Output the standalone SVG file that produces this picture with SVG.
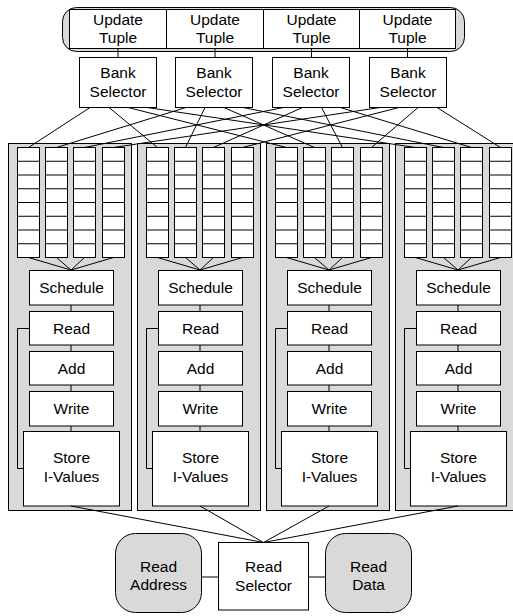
<svg xmlns="http://www.w3.org/2000/svg" width="513" height="616" viewBox="0 0 513 616">
<style>
.g{fill:#d9d9d9;stroke:#000;stroke-width:1}
.w{fill:#fff;stroke:#000;stroke-width:1}
.c{fill:none;stroke:#000;stroke-width:1}
text{font-family:"Liberation Sans",Arial,sans-serif;font-size:15.5px;text-anchor:middle;fill:#000}
</style>
<defs>
<g id="fifo">
<rect class="w" x="0" y="0" width="22" height="110"/>
<path class="c" d="M0 13.75H22M0 27.5H22M0 41.25H22M0 55H22M0 68.75H22M0 82.5H22M0 96.25H22"/>
</g>
</defs>
<rect x="0" y="0" width="513" height="616" fill="#fff"/>
<g id="update-container">
<rect class="g" x="62.5" y="7.5" width="402" height="44" rx="14"/>
</g>
<g id="tuple1"><rect class="w" x="69.5" y="9.5" width="97" height="39"/><text x="118" y="25">Update</text><text x="118" y="43">Tuple</text></g>
<g id="tuple2"><rect class="w" x="166.5" y="9.5" width="97" height="39"/><text x="215" y="25">Update</text><text x="215" y="43">Tuple</text></g>
<g id="tuple3"><rect class="w" x="263.5" y="9.5" width="96" height="39"/><text x="311.5" y="25">Update</text><text x="311.5" y="43">Tuple</text></g>
<g id="tuple4"><rect class="w" x="359.5" y="9.5" width="96" height="39"/><text x="407.5" y="25">Update</text><text x="407.5" y="43">Tuple</text></g>
<g id="bank1"><rect class="w" x="79.5" y="57.5" width="77" height="50"/><text x="118" y="78">Bank</text><text x="118" y="97">Selector</text></g>
<g id="bank2"><rect class="w" x="175.5" y="57.5" width="77" height="50"/><text x="214" y="78">Bank</text><text x="214" y="97">Selector</text></g>
<g id="bank3"><rect class="w" x="272.5" y="57.5" width="77" height="50"/><text x="311" y="78">Bank</text><text x="311" y="97">Selector</text></g>
<g id="bank4"><rect class="w" x="369.5" y="57.5" width="77" height="50"/><text x="408" y="78">Bank</text><text x="408" y="97">Selector</text></g>
<g id="panel1">
<rect class="g" x="8.5" y="143.5" width="123" height="367"/>
<use href="#fifo" x="17.5" y="147.5"/><use href="#fifo" x="45.5" y="147.5"/><use href="#fifo" x="73.5" y="147.5"/><use href="#fifo" x="102.5" y="147.5"/>
<path class="c" d="M28.5 257.5L71 270M56.5 257.5L71 270M84.5 257.5L71 270M113.5 257.5L71 270M71 305V311M71 345V351M71 385V391M71 426V431M29.5 328.5H17.5V468.5H23.5"/>
<rect class="w" x="29.5" y="270.5" width="84" height="34.5"/><text x="71.5" y="293">Schedule</text>
<rect class="w" x="29.5" y="311.5" width="84" height="33.5"/><text x="71.5" y="334">Read</text>
<rect class="w" x="29.5" y="351.5" width="84" height="33.5"/><text x="71.5" y="374">Add</text>
<rect class="w" x="29.5" y="391.5" width="84" height="34.5"/><text x="71.5" y="414">Write</text>
<rect class="w" x="23.5" y="431.5" width="96" height="74.5"/><text x="71.5" y="463">Store</text><text x="71.5" y="481.5">I-Values</text>
</g>
<g id="panel2" transform="translate(129,0)">
<rect class="g" x="8.5" y="143.5" width="123" height="367"/>
<use href="#fifo" x="17.5" y="147.5"/><use href="#fifo" x="45.5" y="147.5"/><use href="#fifo" x="73.5" y="147.5"/><use href="#fifo" x="102.5" y="147.5"/>
<path class="c" d="M28.5 257.5L71 270M56.5 257.5L71 270M84.5 257.5L71 270M113.5 257.5L71 270M71 305V311M71 345V351M71 385V391M71 426V431M29.5 328.5H17.5V468.5H23.5"/>
<rect class="w" x="29.5" y="270.5" width="84" height="34.5"/><text x="71.5" y="293">Schedule</text>
<rect class="w" x="29.5" y="311.5" width="84" height="33.5"/><text x="71.5" y="334">Read</text>
<rect class="w" x="29.5" y="351.5" width="84" height="33.5"/><text x="71.5" y="374">Add</text>
<rect class="w" x="29.5" y="391.5" width="84" height="34.5"/><text x="71.5" y="414">Write</text>
<rect class="w" x="23.5" y="431.5" width="96" height="74.5"/><text x="71.5" y="463">Store</text><text x="71.5" y="481.5">I-Values</text>
</g>
<g id="panel3" transform="translate(258,0)">
<rect class="g" x="8.5" y="143.5" width="123" height="367"/>
<use href="#fifo" x="17.5" y="147.5"/><use href="#fifo" x="45.5" y="147.5"/><use href="#fifo" x="73.5" y="147.5"/><use href="#fifo" x="102.5" y="147.5"/>
<path class="c" d="M28.5 257.5L71 270M56.5 257.5L71 270M84.5 257.5L71 270M113.5 257.5L71 270M71 305V311M71 345V351M71 385V391M71 426V431M29.5 328.5H17.5V468.5H23.5"/>
<rect class="w" x="29.5" y="270.5" width="84" height="34.5"/><text x="71.5" y="293">Schedule</text>
<rect class="w" x="29.5" y="311.5" width="84" height="33.5"/><text x="71.5" y="334">Read</text>
<rect class="w" x="29.5" y="351.5" width="84" height="33.5"/><text x="71.5" y="374">Add</text>
<rect class="w" x="29.5" y="391.5" width="84" height="34.5"/><text x="71.5" y="414">Write</text>
<rect class="w" x="23.5" y="431.5" width="96" height="74.5"/><text x="71.5" y="463">Store</text><text x="71.5" y="481.5">I-Values</text>
</g>
<g id="panel4" transform="translate(387,0)">
<rect class="g" x="8.5" y="143.5" width="123" height="367"/>
<use href="#fifo" x="17.5" y="147.5"/><use href="#fifo" x="45.5" y="147.5"/><use href="#fifo" x="73.5" y="147.5"/><use href="#fifo" x="102.5" y="147.5"/>
<path class="c" d="M28.5 257.5L71 270M56.5 257.5L71 270M84.5 257.5L71 270M113.5 257.5L71 270M71 305V311M71 345V351M71 385V391M71 426V431M29.5 328.5H17.5V468.5H23.5"/>
<rect class="w" x="29.5" y="270.5" width="84" height="34.5"/><text x="71.5" y="293">Schedule</text>
<rect class="w" x="29.5" y="311.5" width="84" height="33.5"/><text x="71.5" y="334">Read</text>
<rect class="w" x="29.5" y="351.5" width="84" height="33.5"/><text x="71.5" y="374">Add</text>
<rect class="w" x="29.5" y="391.5" width="84" height="34.5"/><text x="71.5" y="414">Write</text>
<rect class="w" x="23.5" y="431.5" width="96" height="74.5"/><text x="71.5" y="463">Store</text><text x="71.5" y="481.5">I-Values</text>
</g>
<g id="read-address"><rect class="g" x="115.5" y="533.5" width="86" height="79" rx="20"/><text x="158.5" y="572">Read</text><text x="158.5" y="590">Address</text></g>
<g id="read-selector"><rect class="w" x="218.5" y="542.5" width="90" height="67.5"/><text x="263.5" y="572">Read</text><text x="263.5" y="591">Selector</text></g>
<g id="read-data"><rect class="g" x="325.5" y="533.5" width="86" height="79" rx="20"/><text x="368.5" y="572">Read</text><text x="368.5" y="590">Data</text></g>
<g id="connectors">
<path class="c" d="M118 48.5V57.5M215 48.5V57.5M311.5 48.5V57.5M407.5 48.5V57.5"/>
<path class="c" d="M90 107.5L28.5 147.5M109 107.5L157.5 147.5M128 107.5L286.5 147.5M147 107.5L415.5 147.5"/>
<path class="c" d="M186 107.5L56.5 147.5M205 107.5L185.5 147.5M224 107.5L314.5 147.5M243 107.5L443.5 147.5"/>
<path class="c" d="M283.5 107.5L84.5 147.5M302.5 107.5L213.5 147.5M321.5 107.5L342.5 147.5M340.5 107.5L471.5 147.5"/>
<path class="c" d="M380 107.5L113.5 147.5M399 107.5L242.5 147.5M418 107.5L371.5 147.5M437 107.5L500.5 147.5"/>
<path class="c" d="M71 506L263.5 542.5M200 506L263.5 542.5M329 506L263.5 542.5M458 506L263.5 542.5"/>
<path class="c" d="M201.5 577H218.5M308.5 577H325.5"/>
</g>
</svg>
